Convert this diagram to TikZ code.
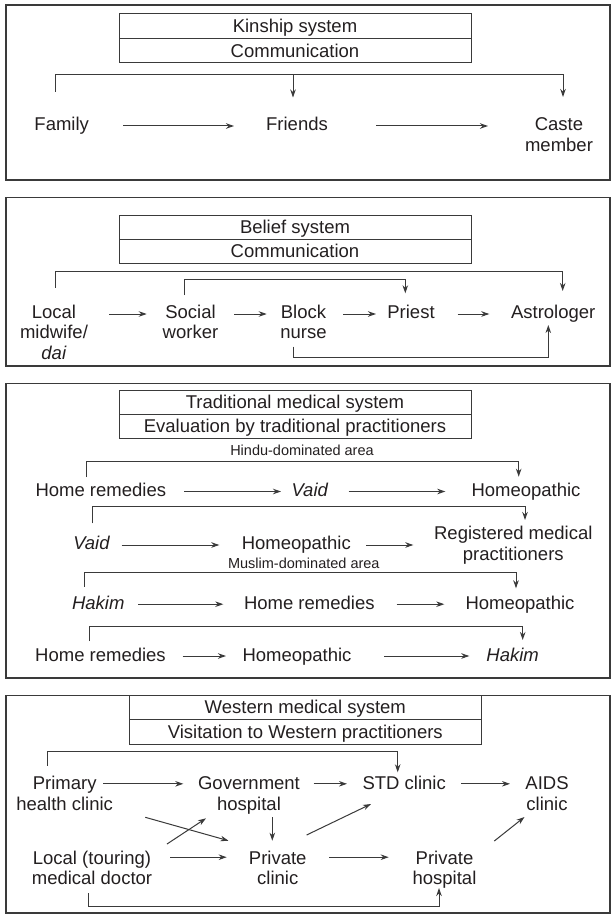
\documentclass[tikz,border=0pt]{standalone}
\usepackage{fontspec}
\setmainfont{Liberation Sans}
\usetikzlibrary{calc,arrows.meta}
\newcommand\mainsz{\fontsize{18.5}{20.5}\selectfont}
\newcommand\smallsz{\fontsize{14.5}{16}\selectfont}
\definecolor{ink}{HTML}{231F20}
\definecolor{rulec}{HTML}{3A3A3A}
\tikzset{
 lbl/.style={inner sep=0pt, anchor=base, align=center, font=\mainsz, text=ink},
 sml/.style={inner sep=0pt, anchor=base, font=\smallsz, text=ink},
 ttl/.style={draw=rulec, line width=1pt, minimum width=352pt, inner sep=0pt, text height=13pt, text depth=0pt, font=\mainsz, text=ink},
 arr/.style={draw=rulec, line width=1pt, -{Stealth[length=8pt,width=5.5pt,inset=2.5pt]}},
 frame/.style={draw=rulec, line width=1.2pt},
}
\begin{document}
\begin{tikzpicture}[x=1pt,y=-1pt]
\useasboundingbox (0,0) rectangle (612,915);
\fill[white] (0,0) rectangle (612,915);

% ---------------- Panel 1
\draw[frame] (6,5) rectangle (610,180);
\node[ttl, minimum height=25pt] (k1) at (295,26.5) {Kinship system};
\node[ttl, minimum height=24pt] (k2) at (295,51) {Communication};
\node[lbl] (fam) at (61.7,130.5) {Family};
\node[lbl] (fri) at (297,130.5) {Friends};
\node[lbl] (cas) at (559,151) {Caste\\member};
\draw[arr] ($(fam.base)+(61.3,-4.5)$) -- ($(fri.base)+(-63,-4.5)$);
\draw[arr] ($(fri.base)+(79,-4.5)$) -- ($(cas.base)+(-71,-25)$);
\draw[arr] ($(fam.base)+(-6.2,-38.8)$) -- ++(0,-16.7) -| ($(cas.base)+(4,-54)$);
\draw[arr] ($(fri.base)+(-4,-55.5)$) -- ($(fri.base)+(-4,-33)$);

% ---------------- Panel 2
\draw[frame] (6,197.5) rectangle (610,366);
\node[ttl, minimum height=24pt] (b1) at (295,227) {Belief system};
\node[ttl, minimum height=24pt] (b2) at (295,251) {Communication};
\node[lbl] (loc) at (54,359) {Local\\midwife/\\\textit{dai}};
\node[lbl] (soc) at (190.5,338.5) {Social\\worker};
\node[lbl] (blk) at (303.5,338.5) {Block\\nurse};
\node[lbl] (pri) at (411,318) {Priest};
\node[lbl] (ast) at (553.2,318) {Astrologer};
\draw[arr] ($(loc.base)+(55.3,-45)$) -- ($(soc.base)+(-43.8,-24.5)$);
\draw[arr] ($(soc.base)+(43.8,-24.5)$) -- ($(blk.base)+(-36.8,-24.5)$);
\draw[arr] ($(blk.base)+(39.8,-24.5)$) -- ($(pri.base)+(-35,-4)$);
\draw[arr] ($(pri.base)+(46.7,-4)$) -- ($(ast.base)+(-63.9,-4)$);
\draw[arr] ($(loc.base)+(1,-71.3)$) -- ++(0,-16.7) -| ($(ast.base)+(9.5,-27)$);
\draw[arr] ($(soc.base)+(-6.2,-43.5)$) -- ++(0,-16) -| ($(pri.base)+(-5.7,-24.7)$);
\draw[arr] ($(blk.base)+(-10.2,8.2)$) -- ++(0,11) -| ($(ast.base)+(-4.9,7)$);

% ---------------- Panel 3
\draw[frame] (6,383.3) rectangle (610,678);
\node[ttl, minimum height=24pt] (tr1) at (295,402) {Traditional medical system};
\node[ttl, minimum height=24.3pt] (tr2) at (295,426.2) {Evaluation by traditional practitioners};
\node[sml] (hin) at (302,455.7) {Hindu-dominated area};
% row 1
\node[lbl] (hra) at (100.8,496.5) {Home remedies};
\node[lbl] (vda) at (310,496.5) {\textit{Vaid}};
\node[lbl] (hoa) at (526,496.5) {Homeopathic};
\draw[arr] ($(hra.base)+(83.5,-5)$) -- ($(vda.base)+(-29,-5)$);
\draw[arr] ($(vda.base)+(38.7,-5)$) -- ($(hoa.base)+(-80.7,-5)$);
\draw[arr] ($(hra.base)+(-14.1,-19.5)$) -- ++(0,-15.3) -| ($(hoa.base)+(-7.3,-19.8)$);
% row 2
\node[lbl] (vdb) at (91.7,549.8) {\textit{Vaid}};
\node[lbl] (hob) at (296.3,549.8) {Homeopathic};
\node[lbl] (reg) at (513.3,560.3) {Registered medical\\practitioners};
\draw[arr] ($(vdb.base)+(30,-4.8)$) -- ($(hob.base)+(-77,-4.8)$);
\draw[arr] ($(hob.base)+(69.7,-4.8)$) -- ($(hob.base -| reg.base)+(-100,-4.8)$);
\draw[arr] ($(vdb.base)+(0.6,-26.5)$) -- ++(0,-17.3) -| ($(reg.base)+(11.7,-40.3)$);
\node[sml] (mus) at (303.8,568.3) {Muslim-dominated area};
% row 3
\node[lbl] (hkc) at (98.3,609.2) {\textit{Hakim}};
\node[lbl] (hrc) at (309.3,609.2) {Home remedies};
\node[lbl] (hoc) at (520,609.2) {Homeopathic};
\draw[arr] ($(hkc.base)+(40,-5)$) -- ($(hrc.base)+(-86,-5)$);
\draw[arr] ($(hrc.base)+(87.4,-5)$) -- ($(hoc.base)+(-75.7,-5)$);
\draw[arr] ($(hkc.base)+(-14,-22.5)$) -- ++(0,-14.4) -| ($(hoc.base)+(-4,-20.9)$);
% row 4
\node[lbl] (hrd) at (100.5,661) {Home remedies};
\node[lbl] (hod) at (297,661) {Homeopathic};
\node[lbl] (hkd) at (512.7,661) {\textit{Hakim}};
\draw[arr] ($(hrd.base)+(82,-5)$) -- ($(hod.base)+(-71,-5)$);
\draw[arr] ($(hod.base)+(87.3,-5)$) -- ($(hkd.base)+(-43.4,-5)$);
\draw[arr] ($(hrd.base)+(-11.2,-20)$) -- ++(0,-15) -| ($(hkd.base)+(10,-21)$);

% ---------------- Panel 4
\draw[frame] (6,695.7) rectangle (610,913);
\node[ttl, minimum width=352.6pt, minimum height=23.3pt] (w1) at (305.3,707.35) {Western medical system};
\node[ttl, minimum width=352.6pt, minimum height=25.3pt] (w2) at (305.3,731.65) {Visitation to Western practitioners};
\node[lbl] (phc) at (64.7,810.3) {Primary\\health clinic};
\node[lbl] (gov) at (249,810.3) {Government\\hospital};
\node[lbl] (std) at (404.2,789.8) {STD clinic};
\node[lbl] (aid) at (547,810.3) {AIDS\\clinic};
\node[lbl] (lmd) at (92,884.7) {Local (touring)\\medical doctor};
\node[lbl] (pcl) at (277.7,884.7) {Private\\clinic};
\node[lbl] (pho) at (444.5,884.7) {Private\\hospital};
\draw[arr] ($(phc.base)+(38.3,-26.5)$) -- ($(gov.base)+(-65.7,-26.5)$);
\draw[arr] ($(gov.base)+(64.5,-26.5)$) -- ($(std.base)+(-57.2,-6)$);
\draw[arr] ($(std.base)+(56.8,-6)$) -- ($(aid.base)+(-37,-26.5)$);
\draw[arr] ($(lmd.base)+(78,-27.5)$) -- ($(pcl.base)+(-51,-27.5)$);
\draw[arr] ($(pcl.base)+(51.3,-27.5)$) -- ($(pho.base)+(-55.8,-27.5)$);
\draw[arr] ($(phc.base)+(80.6,7)$) -- ($(pcl.base)+(-49.2,-44)$);
\draw[arr] ($(lmd.base)+(75,-40.7)$) -- ($(gov.base)+(-43,8)$);
\draw[arr] ($(gov.base)+(23.3,7)$) -- ($(pcl.base)+(-5.4,-44)$);
\draw[arr] ($(pcl.base)+(28.9,-49.7)$) -- ($(std.base)+(-33.2,14.2)$);
\draw[arr] ($(pho.base)+(49.8,-43.7)$) -- ($(aid.base)+(-22.5,6.7)$);
\draw[arr] ($(phc.base)+(-17.7,-44.6)$) -- ++(0,-14.7) -| ($(std.base)+(-6.5,-17.5)$);
\draw[arr] ($(lmd.base)+(-3.5,8.3)$) -- ++(0,13.7) -| ($(pho.base)+(-5.5,3.3)$);
\end{tikzpicture}
\end{document}
